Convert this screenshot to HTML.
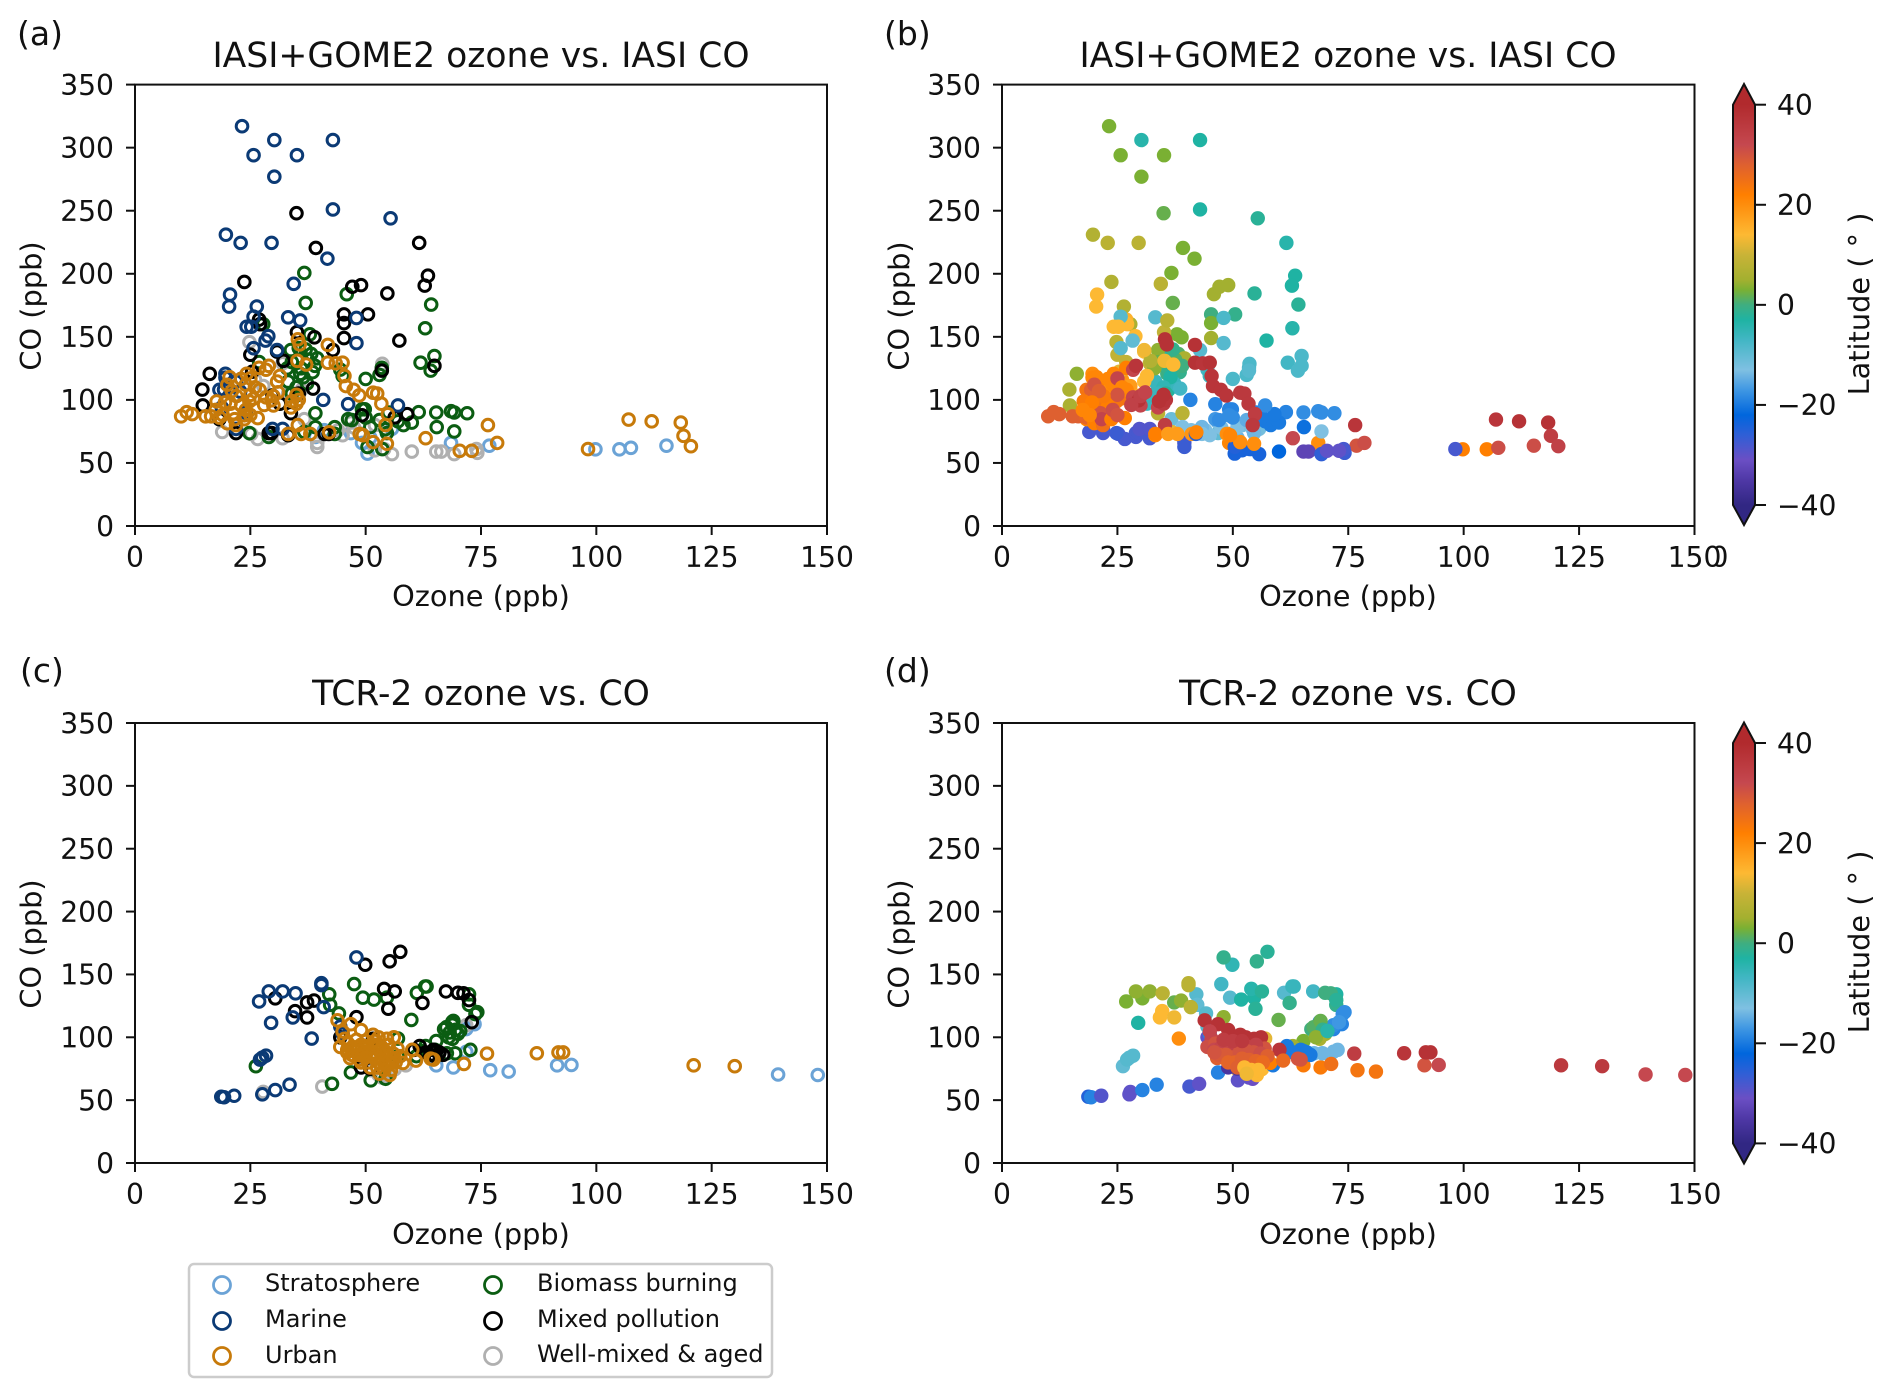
<!DOCTYPE html>
<html lang="en">
<head>
<meta charset="utf-8">
<title>Ozone vs. CO scatter panels</title>
<style>
html,body{margin:0;padding:0;background:#fff;}
svg{display:block;font-family:"DejaVu Sans","Liberation Sans",sans-serif;fill:#111;}
.tick{font-size:28.2px;}
.axis{font-size:28.8px;}
.title{font-size:34.6px;}
.plabel{font-size:33px;}
.leg{font-size:24px;}
</style>
</head>
<body>
<svg id="figure" width="1892" height="1398" viewBox="0 0 1892 1398" xmlns="http://www.w3.org/2000/svg">
  <rect width="1892" height="1398" fill="#fff"/>
  <defs id="defs">
    <clipPath id="stray-clip"><rect x="1716" y="530" width="20" height="50"/></clipPath>
  </defs>

  <g id="panel-a">
    <text class="plabel" x="17" y="45">(a)</text>
    <text class="title" x="481" y="67" text-anchor="middle">IASI+GOME2 ozone vs. IASI CO</text>
    <text class="axis" x="481" y="606" text-anchor="middle">Ozone (ppb)</text>
    <text class="axis" transform="translate(31,306) rotate(-90)" text-anchor="middle" dominant-baseline="central">CO (ppb)</text>
  </g>
  <g id="panel-b">
    <text class="plabel" x="884" y="45">(b)</text>
    <text class="title" x="1348" y="67" text-anchor="middle">IASI+GOME2 ozone vs. IASI CO</text>
    <text class="axis" x="1348" y="606" text-anchor="middle">Ozone (ppb)</text>
    <text class="axis" transform="translate(899,306) rotate(-90)" text-anchor="middle" dominant-baseline="central">CO (ppb)</text>
    <text class="tick" x="1710.5" y="567" clip-path="url(#stray-clip)">0</text>
    <text class="axis" transform="translate(1859,304) rotate(-90)" text-anchor="middle" dominant-baseline="central">Latitude ( ° )</text>
  </g>
  <g id="panel-c">
    <text class="plabel" x="20" y="682">(c)</text>
    <text class="title" x="481" y="705" text-anchor="middle">TCR-2 ozone vs. CO</text>
    <text class="axis" x="481" y="1244" text-anchor="middle">Ozone (ppb)</text>
    <text class="axis" transform="translate(31,944) rotate(-90)" text-anchor="middle" dominant-baseline="central">CO (ppb)</text>
  </g>
  <g id="panel-d">
    <text class="plabel" x="884" y="682">(d)</text>
    <text class="title" x="1348" y="705" text-anchor="middle">TCR-2 ozone vs. CO</text>
    <text class="axis" x="1348" y="1244" text-anchor="middle">Ozone (ppb)</text>
    <text class="axis" transform="translate(899,944) rotate(-90)" text-anchor="middle" dominant-baseline="central">CO (ppb)</text>
    <text class="axis" transform="translate(1859,942) rotate(-90)" text-anchor="middle" dominant-baseline="central">Latitude ( ° )</text>
  </g>

  <g id="legend">
    <rect x="189" y="1264" width="583" height="113" rx="5" fill="#fff" stroke="#ccc" stroke-width="2.5"/>
    <g><circle cx="222" cy="1285" r="8.5" fill="none" stroke="#6ba3d6" stroke-width="2.8"/><text class="leg" x="265" y="1291">Stratosphere</text></g>
    <g><circle cx="222" cy="1321" r="8.5" fill="none" stroke="#0b3a75" stroke-width="2.8"/><text class="leg" x="265" y="1327">Marine</text></g>
    <g><circle cx="222" cy="1356" r="8.5" fill="none" stroke="#c77a0a" stroke-width="2.8"/><text class="leg" x="265" y="1363">Urban</text></g>
    <g><circle cx="493" cy="1285" r="8.5" fill="none" stroke="#0b5d12" stroke-width="2.8"/><text class="leg" x="537" y="1291">Biomass burning</text></g>
    <g><circle cx="493" cy="1321" r="8.5" fill="none" stroke="#000" stroke-width="2.8"/><text class="leg" x="537" y="1327">Mixed pollution</text></g>
    <g><circle cx="493" cy="1356" r="8.5" fill="none" stroke="#b0b0b0" stroke-width="2.8"/><text class="leg" x="537" y="1362">Well-mixed &amp; aged</text></g>
  </g>
</svg>

<script>
// Axis tick labels
const ozoneTicks = [0, 25, 50, 75, 100, 125, 150];
const coTicks = [0, 50, 100, 150, 200, 250, 300, 350];
const latitudeTicks = [40, 20, 0, -20, -40];

// Colormap: latitude anchors and colours
const cmapLat = [-40,-35,-31,-26,-22,-17,-13,-7,-3,0,3,5,10,14,22,28,32,40];
const cmapColor = ['#312783','#4f38a6','#6b4fc4','#2f5fd6','#0066dd','#3f97e3','#7fc0e2','#42b6c4','#1fb3a3','#3fae80','#7ab033','#a3b030','#c9b337','#fdb933','#ff7f00','#de6030','#c5484f','#b12a2d'];

// IASI+GOME2 ozone vs. IASI CO (panels a, b)
const iasiStratOzone = [99.8,105,107.5,115.2,76.8,68.5,50.4,49.2,49.2,39.1,46.8,55.7,41,51];
const iasiStratCO = [60.8,60.8,62,63.7,63.7,65.9,57.4,65.9,73,70.6,73.7,77,76,70];
const iasiStratLat = [22,22,31,31,30,20,-24,21,22,-15,-10,-12,-13,-14];

const iasiMarineOzone = [23.2,25.7,30.2,35.1,42.9,30.2,42.9,55.4,19.7,22.9,29.6,41.7,34.4,20.6,20.4,26.4,25.7,24.2,25.2,33.2,35.8,48,48,28.9,28.3,25.7,30.8,19.6,19.6,23,21.9,18.3,19.3,22.8,40.8,46.2,57,18.8,21.9,29.8,32,24];
const iasiMarineCO = [317,294,306,294,306,277,251,244,231,224.5,224.5,212,192,183.5,174,174,166,158,158,165.5,163,165,145,150.5,147,141,139.5,120.7,117.6,116.6,114.5,108,108,106.6,100,96.6,95.6,94,77,77,77,90];
const iasiMarineLat = [3,3,-4,3,-3,3,-3,-2,7,8,8,3,8,14,14,7,-9,14,14,-9,8,-8,-9,14,-10,-9,13,20,21,22,22,24,28,20,-19,-19,-18,30,-28,-29,-29,32];

const iasiBiomassOzone = [36.7,45.9,37,64.2,62.9,64.9,61.9,64.1,53.5,53,50,37.9,35.5,38.2,39.5,33.8,27.8,26.9,44.5,45,38.5,35.8,33.2,37.3,35,49.2,49.8,61.5,65.3,68.5,69.2,72,39.1,46.2,65.4,58.2,69.2,39.1,43.3,51,54.3,54.6,36.7,43.3,29,24.8,50.4,53.6,36,37.5,34,36.5,35,39,37,33,34,47,50,53,55,57,60];
const iasiBiomassCO = [200.7,183.8,176.9,175.6,156.8,134.8,129.5,123.2,125.4,119.8,116.6,152,141,136.4,133,139.5,160,130,124,119,122,120.7,114.5,113,103.5,92.5,92.5,90.3,90,91,90,89.4,89.4,84.7,78.4,80,75,78.4,78.4,78.4,76.8,73.7,74.6,73,70.6,73.7,62.7,61,125,132,130,118,110,127,140,125,105,84,86,84,90,83,82];
const iasiBiomassLat = [3,5,2,-2,-4,-8,-7,-8,-8,-8,-8,3,-3,1,6,4,6,9,-7,-6,-1,0,-6,-6,1,-19,-19,-19,-18,-18,-18,-18,8,-17,-21,-20,-13,-13,-14,-13,-13,-14,12,-13,-28,-27,-25,-24,-1,1,2,-3,-5,0,-1,4,-6,-18,-18,-15,-19,-20,-20];

const iasiMixedOzone = [35,39.2,61.6,63.5,62.8,23.7,47.1,49,54.7,50.5,45.3,45.3,45.3,57.3,26.9,27.1,35.1,38.9,30.8,42.9,25,32.2,64.9,53.5,16.2,25.4,14.6,38.6,35.5,29.8,14.7,31.4,33.8,49.2,59,56.3,18.3,21.9,29,29.6,33.2,41.1,42];
const iasiMixedCO = [248,220.5,224.5,198.5,190.6,193.5,189.7,191,184.4,167.8,167.8,160.9,149,147,163.7,160,153.7,149.6,138.3,139.5,135.8,131,127,123.2,120.7,122.3,108.2,109,105,103.5,95.6,97,89.4,87.8,88.7,86.2,84.7,73.7,73.7,73.7,72,73,73];
const iasiMixedLat = [2,3,-4,-3,-3,7,5,5,-2,-1,0,3,5,-3,15,14,9,3,14,-9,9,7,-8,-9,4,12,6,-7,-2,15,6,-6,8,-18,-20,-20,21,-28,-28,-28,21,19,-25];

const iasiAgedOzone = [55.7,65.3,66.4,69.2,74.2,74,39.5,39.5,18.9,26.6,25.2,32,24.8,53.6,32,33.2,36.1,26,27.8,46.8,45,36.7,52,47.5,44,60,52,54];
const iasiAgedCO = [57,59,59,57,58,61,65.9,62.7,74.6,69,73,69.6,145.8,128.6,129,105,108,116,111,82,72,84.7,80,78,76,59,60,61];
const iasiAgedLat = [-24,-33,-33,-26,-27,-28,-28,-27,-28,-28,-28,-28,8,-8,9,-6,-3,19,18,-13,-13,-11,-12,-13,-13,-22,-24,-24];

const iasiUrbanOzone = [107,112,118.3,118.9,120.5,98.2,78.5,76.5,63,70.4,73,10,11.2,12.4,15.3,16.5,18.3,17.7,20.7,23,23.7,21.3,20,21.9,21.6,23.7,26.6,24.8,25.7,27,28.4,30,29.6,23,24.2,26.9,28.4,29,31.4,30.8,33.8,35,35.5,35.3,33.2,42.1,35.3,35.7,35.2,37.1,41.8,41.8,43.5,45,45.4,45.7,47.4,48.6,51.6,52.5,53.4,54.8,54.3,48.7,51.6,54.6,49.4,20.5,20,24,25,26,25,22,21,19.5,17.5,19,24,25,28,30,31,34,35,36,38];
const iasiUrbanCO = [84.4,83,82,71.5,63.3,61,65.9,80,69.6,59.6,59.6,87,90.3,88.7,87,87,86,98.8,97,95.6,87.8,89.4,81.5,80,84.7,84.7,85.6,98.8,101,108,102,95.6,99.7,116.6,120.7,125.4,123.9,127,119,114.5,94,97,100,80,73,74.3,148,144,131,128,143.6,129.5,129,129.5,119,111,108,103.5,105.7,105,97,88.7,80,73,66.5,65.2,72,118,112,112,117,110,104,103,107,98,92,88,92,88,96,103,106,99,104,73,73];
const iasiUrbanLat = [37,38,38,35,34,-28,31,37,32,-30,-30,28,28,28,28,28,27,23,24,22,21,30,22,25,33,22,22,22,24,21,33,33,38,21,21,22,33,37,14,14,33,36,37,35,22,21,38,38,13,14,38,38,37,38,37,37,37,37,36,36,36,35,36,20,20,20,21,21,30,21,33,21,30,23,28,22,21,21,31,30,34,34,33,38,38,18,18];

// TCR-2 ozone vs. CO (panels c, d)
const tcrStratOzone = [148,139.4,94.6,91.5,81,77,69,65.3,73.6,71.8,71.8];
const tcrStratCO = [70,70.4,78,77.7,72.7,73.8,76,77.7,110.4,88.5,106.5];
const tcrStratLat = [32,32,32,30,24,24,23,23,-19,-14,-19];

const tcrMarineOzone = [48,40.4,40.4,29,32,34.8,26.9,40.9,29.5,34.2,38.3,27.1,27.6,28.4,18.7,19.3,21.5,27.6,30.4,33.5,44.5,45];
const tcrMarineCO = [163.5,143,141.5,136.5,136.5,135,128.5,124,111.5,115.8,99,82.3,83.8,85.4,52.7,52.3,53.5,54.6,58,62.3,108.5,102.7];
const tcrMarineLat = [-1,8,8,4,4,8,3,8,-3,14,20,-9,-9,-9,-25,-19,-29,-30,-19,-19,-9,-19];

const tcrBiomassOzone = [47.5,42.1,42.3,49.4,51.8,54.6,61.1,62.9,63.2,72.4,72.4,74.2,73.8,59.9,44.2,68.8,68.8,67,68.2,70,68.8,65.3,72.7,69.4,67.6,46.8,51.1,54.3,42.7,26.2,57,57,62.3,61,67.5,69,69.5,68,70.5,65,63];
const tcrBiomassCO = [142.3,134.2,125.8,131.5,130,131.5,135.4,140.4,140.4,134.2,125.8,120,118.5,113.8,119,112.3,110,106.5,103.8,102.7,98.8,97,90,87.3,87.3,72,65.8,67,63,77,99,85,89,85,108,113,106,100,105,90,93];
const tcrBiomassLat = [-7,-9,-10,-9,-3,-3,-9,-6,-6,-3,-1,-18,-18,2,-9,-19,2,0,3,5,6,3,-14,-14,-14,-19,-30,-31,-30,-10,12,12,3,4,1,2,-1,4,-4,3,5];

const tcrMixedOzone = [57.5,55.2,49.9,54,56.3,67.4,70,71.2,72.4,54.9,62.3,30.4,37.3,38.8,34.7,37.3,48,73,44.5,51.6,65.3,64.7,65.9,66.8,61.7,60.5,49,51,63,64,65,66];
const tcrMixedCO = [168,160.4,157.7,138.5,136.5,136.5,135.4,135,129.6,122.7,127.3,131,127.7,129.2,120.8,115.8,116,112,100,98.8,89,90,87,86,93,90,76,75,88,86,85,88];
const tcrMixedLat = [-2,-1,-5,-4,-2,-7,0,0,-2,-2,-1,3,2,4,14,13,4,-17,-30,-36,-20,-20,-20,-20,-20,-20,-36,-36,-20,-20,-20,-20];

const tcrAgedOzone = [40.6,27.8,71.8,52.8,55.2,56.3,51.1,58.7,53.5,54.5];
const tcrAgedCO = [60.8,56.5,109.6,70,72,74.6,73.8,77.7,68,69];
const tcrAgedLat = [-28,-30,-18,12,13,14,14,-20,-30,-28];

const tcrUrbanOzone = [121.1,130,92.8,91.8,87.1,76.3,71.3,43.9,46.8,49,51.6,52.8,54.6,56.1,45,45.4,44.5,46.2,48,46.6,48.6,50.4,51.6,52.8,54,55.2,54.6,56.3,58.1,60.1,60.9,64.1,64.7,49.8,49.2,52.8,56.9,46,47.5,49,50.5,52,53.5,55,47,48.5,50,51.5,53,54.5,56,57.5,49,50.5,52,53.5,55,56.5,51,52.5,54,55.5,53,48,50,46,52];
const tcrUrbanCO = [77.7,77,88,88,87.3,87,78.8,113.5,110.4,105.8,102,100,98.8,100,104.6,98.8,92.3,95,91,83.5,82.3,89,85.4,79.6,85.4,70,77.7,83.5,79.6,90,81.5,83,82.3,93,85.4,93,91,90,92,94,92,94,92,94,86,86,84,88,89,88,87,85,80,80,83,82,81,80,76,76,74,74,71,98,97,88,97];
const tcrUrbanLat = [36,36,38,38,37,35,25,38,38,38,38,38,38,38,33,33,31,30,29,28,28,30,30,14,31,14,14,28,22,37,26,30,30,30,28,31,30,32,33,33,34,33,34,34,29,29,29,30,30,30,31,28,27,27,28,28,27,26,28,14,14,14,13,35,35,30,36];

const iasiSeries = [
  {name:'stratosphere', color:'#6ba3d6', oz:iasiStratOzone, co:iasiStratCO, lat:iasiStratLat},
  {name:'well-mixed-aged', color:'#b0b0b0', oz:iasiAgedOzone, co:iasiAgedCO, lat:iasiAgedLat},
  {name:'biomass-burning', color:'#0b5d12', oz:iasiBiomassOzone, co:iasiBiomassCO, lat:iasiBiomassLat},
  {name:'mixed-pollution', color:'#000000', oz:iasiMixedOzone, co:iasiMixedCO, lat:iasiMixedLat},
  {name:'marine', color:'#0b3a75', oz:iasiMarineOzone, co:iasiMarineCO, lat:iasiMarineLat},
  {name:'urban', color:'#c77a0a', oz:iasiUrbanOzone, co:iasiUrbanCO, lat:iasiUrbanLat}
];
const tcrSeries = [
  {name:'stratosphere', color:'#6ba3d6', oz:tcrStratOzone, co:tcrStratCO, lat:tcrStratLat},
  {name:'well-mixed-aged', color:'#b0b0b0', oz:tcrAgedOzone, co:tcrAgedCO, lat:tcrAgedLat},
  {name:'biomass-burning', color:'#0b5d12', oz:tcrBiomassOzone, co:tcrBiomassCO, lat:tcrBiomassLat},
  {name:'mixed-pollution', color:'#000000', oz:tcrMixedOzone, co:tcrMixedCO, lat:tcrMixedLat},
  {name:'marine', color:'#0b3a75', oz:tcrMarineOzone, co:tcrMarineCO, lat:tcrMarineLat},
  {name:'urban', color:'#c77a0a', oz:tcrUrbanOzone, co:tcrUrbanCO, lat:tcrUrbanLat}
];

const SVGNS = 'http://www.w3.org/2000/svg';
function make(parent, tag, attrs) {
  const el = document.createElementNS(SVGNS, tag);
  for (const k in attrs) el.setAttribute(k, attrs[k]);
  parent.appendChild(el);
  return el;
}
function hexRgb(h) { return [1,3,5].map(i => parseInt(h.substr(i,2),16)); }
function latColor(v) {
  const t = Math.max(cmapLat[0], Math.min(cmapLat[cmapLat.length-1], v));
  for (let i = 0; i < cmapLat.length-1; i++) {
    if (t <= cmapLat[i+1]) {
      const f = (t-cmapLat[i])/(cmapLat[i+1]-cmapLat[i]);
      const a = hexRgb(cmapColor[i]), b = hexRgb(cmapColor[i+1]);
      return 'rgb('+a.map((c,j)=>Math.round(c+(b[j]-c)*f)).join(',')+')';
    }
  }
  return cmapColor[cmapColor.length-1];
}
function fmtTick(v) { return v < 0 ? '\u2212'+Math.abs(v) : String(v); }

function drawPanel(id, left, right, top, bottom, series, filled) {
  const root = document.getElementById('panel-'+id);
  const xPx = v => left + v/150*(right-left);
  const yPx = v => bottom - v/350*(bottom-top);

  const marks = make(root, 'g', {});
  
  
  series.forEach(s => {
    const grp = make(marks, 'g', {});
    
    
    s.oz.forEach((oz, i) => {
      const pt = make(grp, 'circle', filled
        ? {cx:xPx(oz), cy:yPx(s.co[i]), r:7.2, fill:latColor(s.lat[i])}
        : {cx:xPx(oz), cy:yPx(s.co[i]), r:5.8, fill:'none', stroke:s.color, 'stroke-width':3});
      
      
    });
  });

  const frame = make(root, 'rect', {x:left, y:top, width:right-left, height:bottom-top, fill:'none', stroke:'#111', 'stroke-width':2});
  
  

  ozoneTicks.forEach(v => {
    const g = make(root, 'g', {});
    
    
    make(g, 'line', {x1:xPx(v), x2:xPx(v), y1:bottom, y2:bottom+9, stroke:'#111', 'stroke-width':2});
    const t = make(g, 'text', {x:xPx(v), y:bottom+41, 'text-anchor':'middle', class:'tick'});
    t.textContent = fmtTick(v);
  });
  coTicks.forEach(v => {
    const g = make(root, 'g', {});
    
    
    make(g, 'line', {x1:left-9, x2:left, y1:yPx(v), y2:yPx(v), stroke:'#111', 'stroke-width':2});
    const t = make(g, 'text', {x:left-21, y:yPx(v)+10.3, 'text-anchor':'end', class:'tick'});
    t.textContent = fmtTick(v);
  });
}

function drawColorbar(id, left, right, latTop, latBottom, tipTop, tipBottom) {
  const root = document.getElementById('panel-'+id);
  const defs = document.getElementById('defs');
  const yPx = v => latBottom - (v+40)/80*(latBottom-latTop);
  const gid = 'cbar-grad-'+id;
  const grad = make(defs, 'linearGradient', {id:gid, gradientUnits:'userSpaceOnUse', x1:0, x2:0, y1:latBottom, y2:latTop});
  cmapLat.forEach((v, i) => make(grad, 'stop', {offset:(v+40)/80, 'stop-color':cmapColor[i]}));
  const mid = (left+right)/2;
  const pts = [[mid,tipTop],[right,latTop],[right,latBottom],[mid,tipBottom],[left,latBottom],[left,latTop]].map(p=>p.join(',')).join(' ');
  const bar = make(root, 'polygon', {points:pts, fill:'url(#'+gid+')', stroke:'#111', 'stroke-width':2, 'stroke-linejoin':'miter'});
  
  
  latitudeTicks.forEach(v => {
    const g = make(root, 'g', {});
    
    
    make(g, 'line', {x1:right, x2:right+11, y1:yPx(v), y2:yPx(v), stroke:'#111', 'stroke-width':2});
    const t = make(g, 'text', {x:right+22, y:yPx(v)+10.3, class:'tick'});
    t.textContent = fmtTick(v);
  });
}

drawPanel('a', 135, 827, 84.6, 526, iasiSeries, false);
drawPanel('b', 1002, 1694.5, 84.6, 526, iasiSeries, true);
drawPanel('c', 135, 827, 723, 1163, tcrSeries, false);
drawPanel('d', 1002, 1694.5, 723, 1163, tcrSeries, true);
drawColorbar('b', 1733, 1755, 104.7, 505, 84, 525);
drawColorbar('d', 1733, 1755, 743, 1143.4, 722.5, 1163.5);
</script>
</body>
</html>
